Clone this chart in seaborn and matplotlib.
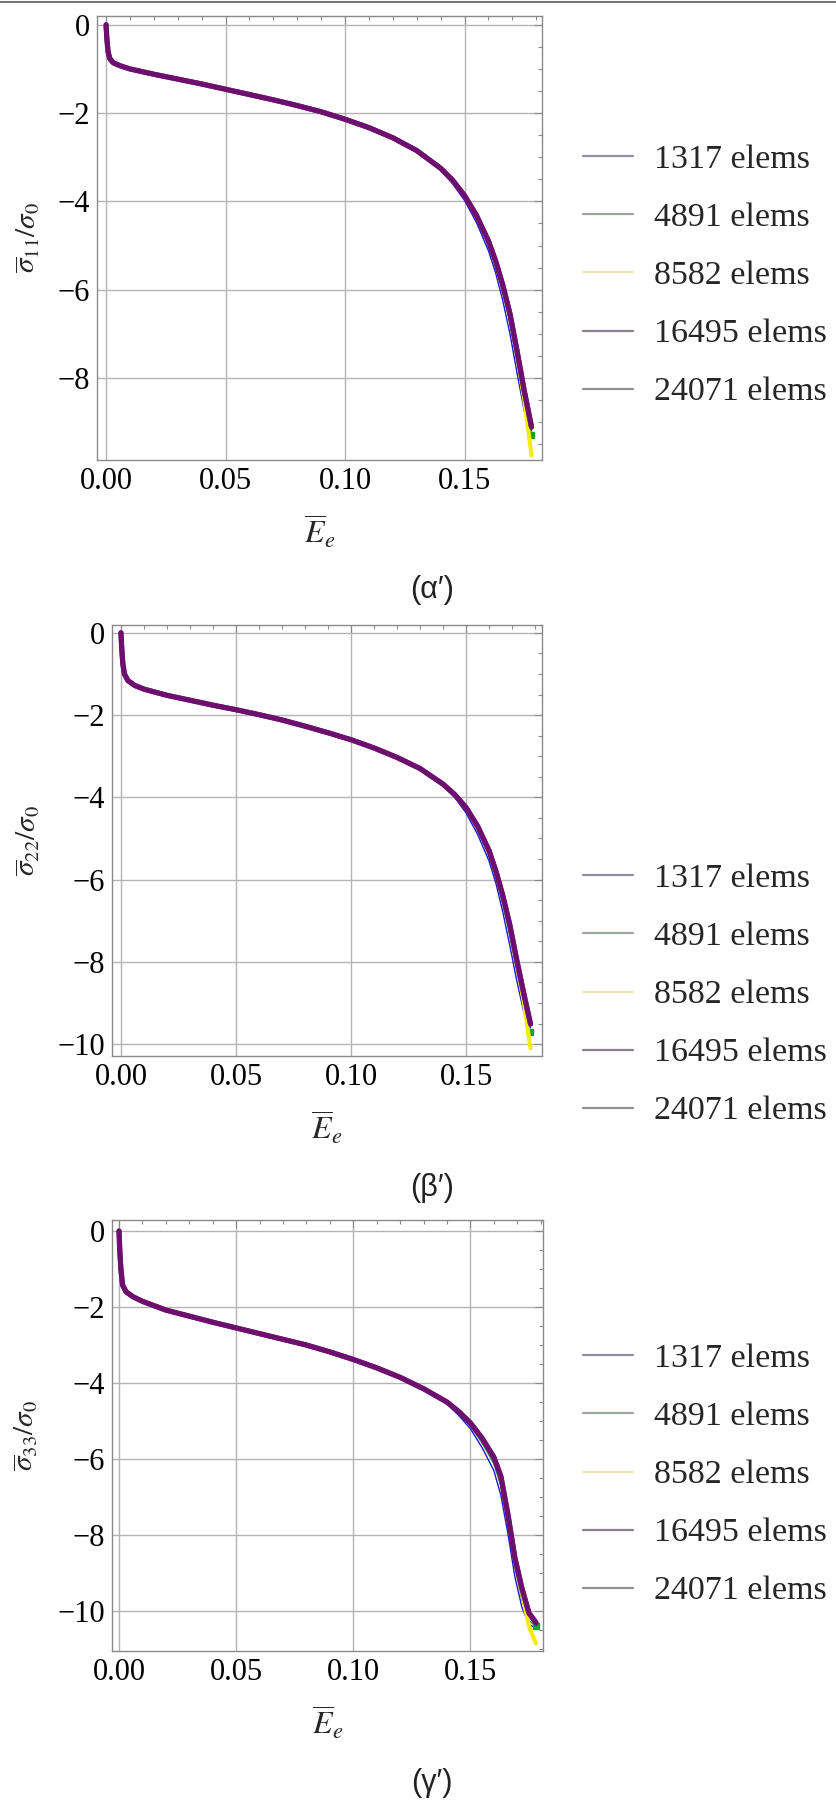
import matplotlib
matplotlib.use("Agg")
import matplotlib.pyplot as plt
from matplotlib.lines import Line2D
from matplotlib.ticker import MultipleLocator, FormatStrFormatter
import seaborn as sns
import pandas as pd

# ---------------- data ----------------
MESHES = ["1317 elems", "4891 elems", "8582 elems", "16495 elems", "24071 elems"]

X_HEAD = [0.0, 0.0003, 0.0008, 0.0015, 0.003, 0.006, 0.01, 0.02, 0.03, 0.04,
          0.05, 0.06, 0.07, 0.08, 0.09, 0.10, 0.11, 0.12, 0.13]
X_TAIL = [0.14, 0.145, 0.15, 0.155, 0.16, 0.163, 0.166, 0.169, 0.172, 0.175, 0.178]

# sigma11 / sigma0
S11_HEAD = [0.0, -0.30, -0.60, -0.76, -0.86, -0.93, -1.00, -1.12, -1.23, -1.34,
            -1.46, -1.58, -1.70, -1.83, -1.97, -2.14, -2.33, -2.56, -2.85]
S11_1317 = [-3.30, -3.60, -3.98, -4.48, -5.12, -5.62, -6.25, -7.00, -7.90, -8.75, -9.20]
S11_4891 = [-3.27, -3.55, -3.92, -4.40, -5.00, -5.48, -6.05, -6.75, -7.65, -8.55, -9.30]
S11_8582 = [-3.25, -3.52, -3.87, -4.32, -4.90, -5.35, -5.90, -6.55, -7.45, -8.50, -9.75]
S11_16495 = [-3.25, -3.52, -3.87, -4.32, -4.90, -5.35, -5.90, -6.55, -7.40, -8.30, -9.10]
S11_24071 = [-3.25, -3.52, -3.87, -4.32, -4.90, -5.35, -5.90, -6.55, -7.40, -8.30, -9.12]

# sigma22 / sigma0
S22_HEAD = [0.0, -0.35, -0.75, -1.00, -1.16, -1.28, -1.37, -1.52, -1.64, -1.76,
            -1.87, -1.99, -2.12, -2.27, -2.43, -2.60, -2.80, -3.03, -3.30]
S22_1317 = [-3.72, -4.00, -4.38, -4.90, -5.55, -6.10, -6.80, -7.60, -8.45, -9.20, -9.60]
S22_4891 = [-3.70, -3.96, -4.30, -4.80, -5.42, -5.95, -6.60, -7.35, -8.20, -9.00, -9.70]
S22_8582 = [-3.68, -3.93, -4.25, -4.70, -5.30, -5.80, -6.40, -7.10, -8.00, -8.95, -10.10]
S22_16495 = [-3.68, -3.93, -4.25, -4.70, -5.30, -5.80, -6.40, -7.10, -7.95, -8.75, -9.50]
S22_24071 = [-3.68, -3.93, -4.25, -4.70, -5.30, -5.80, -6.40, -7.10, -7.95, -8.75, -9.52]

# sigma33 / sigma0
S33_HEAD = [0.0, -0.50, -1.00, -1.42, -1.60, -1.73, -1.85, -2.08, -2.24, -2.40,
            -2.55, -2.70, -2.85, -3.00, -3.18, -3.38, -3.60, -3.85, -4.15]
S33_1317 = [-4.55, -4.85, -5.20, -5.70, -6.30, -6.95, -7.95, -9.10, -9.90, -10.35, -10.45]
S33_4891 = [-4.52, -4.80, -5.12, -5.58, -6.12, -6.70, -7.70, -8.85, -9.70, -10.25, -10.40]
S33_8582 = [-4.50, -4.75, -5.05, -5.45, -5.95, -6.45, -7.45, -8.65, -9.50, -10.40, -10.85]
S33_16495 = [-4.50, -4.75, -5.05, -5.45, -5.95, -6.45, -7.45, -8.60, -9.40, -10.05, -10.30]
S33_24071 = [-4.50, -4.75, -5.05, -5.45, -5.95, -6.45, -7.45, -8.60, -9.40, -10.05, -10.32]

X_TICKS = [0.00, 0.05, 0.10, 0.15]
YLABELS = [r"$\overline{\sigma}_{11}/\sigma_0$", r"$\overline{\sigma}_{22}/\sigma_0$",
           r"$\overline{\sigma}_{33}/\sigma_0$"]
CAPTIONS = ["(\u03b1\u2032)", "(\u03b2\u2032)", "(\u03b3\u2032)"]

# ---------------- style ----------------
sns.set_theme(style="white")
plt.rcParams["font.family"] = ["Liberation Serif", "DejaVu Serif"]
plt.rcParams["mathtext.fontset"] = "stix"
plt.rcParams["axes.unicode_minus"] = True

LINE_COLORS = ["#1a1ad0", "#1f9e2a", "#f2ec12", "#7a2479", "#6c0f6e"]
LINE_WIDTHS = [1.0, 1.0, 3.0, 3.8, 3.6]
LEG_COLORS = ["#8d8da3", "#9aa69c", "#ece6b4", "#8c8090", "#909090"]

W, H = 837, 1800
fig = plt.figure(figsize=(W / 100, H / 100), dpi=100)

def fr(left, top, right, bottom):
    return [left / W, 1 - bottom / H, (right - left) / W, (bottom - top) / H]

panels = [
    dict(rect=fr(97, 16, 542, 460), xlim=(-0.0038, 0.1824), ylim=(-9.86, 0.2),
         head=S11_HEAD, tails=[S11_1317, S11_4891, S11_8582, S11_16495, S11_24071],
         ylab_x=-0.124, leg_y=276, cap_y=590),
    dict(rect=fr(112, 625, 542, 1056), xlim=(-0.0039, 0.183), ylim=(-10.29, 0.19),
         head=S22_HEAD, tails=[S22_1317, S22_4891, S22_8582, S22_16495, S22_24071],
         ylab_x=-0.163, leg_y=995, cap_y=1188),
    dict(rect=fr(112, 1220, 543, 1651), xlim=(-0.003, 0.181), ylim=(-11.05, 0.29),
         head=S33_HEAD, tails=[S33_1317, S33_4891, S33_8582, S33_16495, S33_24071],
         ylab_x=-0.167, leg_y=1475, cap_y=1783),
]

for i, p in enumerate(panels):
    ax = fig.add_axes(p["rect"])
    xs = X_HEAD + X_TAIL
    for k, name in enumerate(MESHES):
        ys = p["head"] + p["tails"][k]
        df = pd.DataFrame({"E": xs, "S": ys})
        sns.lineplot(data=df, x="E", y="S", ax=ax, color=LINE_COLORS[k],
                     lw=LINE_WIDTHS[k], sort=False, estimator=None, legend=False,
                     solid_capstyle="round", solid_joinstyle="round", zorder=3 + k)
        if name == "4891 elems":
            ax.plot(xs[-1:], ys[-1:], marker="s", ms=5, color=LINE_COLORS[k],
                    zorder=3 + k, ls="none")

    ax.set_xlim(*p["xlim"])
    ax.set_ylim(*p["ylim"])
    ax.set_xticks(X_TICKS)
    ax.xaxis.set_major_formatter(FormatStrFormatter("%.2f"))
    ax.xaxis.set_minor_locator(MultipleLocator(0.01))
    ax.yaxis.set_major_locator(MultipleLocator(2))
    ax.yaxis.set_minor_locator(MultipleLocator(0.5))
    ax.grid(True, which="major", color="#b4b4b4", lw=1.0, zorder=1)
    ax.tick_params(which="both", direction="in", top=True, right=True,
                   color="#8a8a8a", width=0.8, labelsize=22, labelcolor="black")
    ax.tick_params(which="major", length=6)
    ax.tick_params(which="minor", length=3)
    ax.tick_params(axis="x", pad=5)
    ax.tick_params(axis="y", pad=5)
    for s in ax.spines.values():
        s.set_color("#8a8a8a")
        s.set_linewidth(1.0)
    ax.set_xlabel(r"$\overline{E}_e$", fontsize=23, labelpad=13)
    ax.set_ylabel(YLABELS[i], fontsize=21)
    ax.yaxis.set_label_coords(p["ylab_x"], 0.5)

    handles = [Line2D([0], [0], color=c, lw=1.6) for c in LEG_COLORS]
    fig.legend(handles, MESHES, loc="center left",
               bbox_to_anchor=(583 / W, 1 - p["leg_y"] / H), frameon=False,
               fontsize=24.5, handlelength=1.47, handletextpad=0.62,
               labelspacing=0.8, borderpad=0, borderaxespad=0)
    fig.text(432 / W, 1 - p["cap_y"] / H, CAPTIONS[i], ha="center", va="center",
             fontsize=22, family=["Liberation Sans", "DejaVu Sans"], color="#222222")

fig.add_artist(Line2D([0, 1], [1 - 1.5 / H, 1 - 1.5 / H], color="#777777", lw=1.5))

fig.savefig("out.png", dpi=100, facecolor="white")
